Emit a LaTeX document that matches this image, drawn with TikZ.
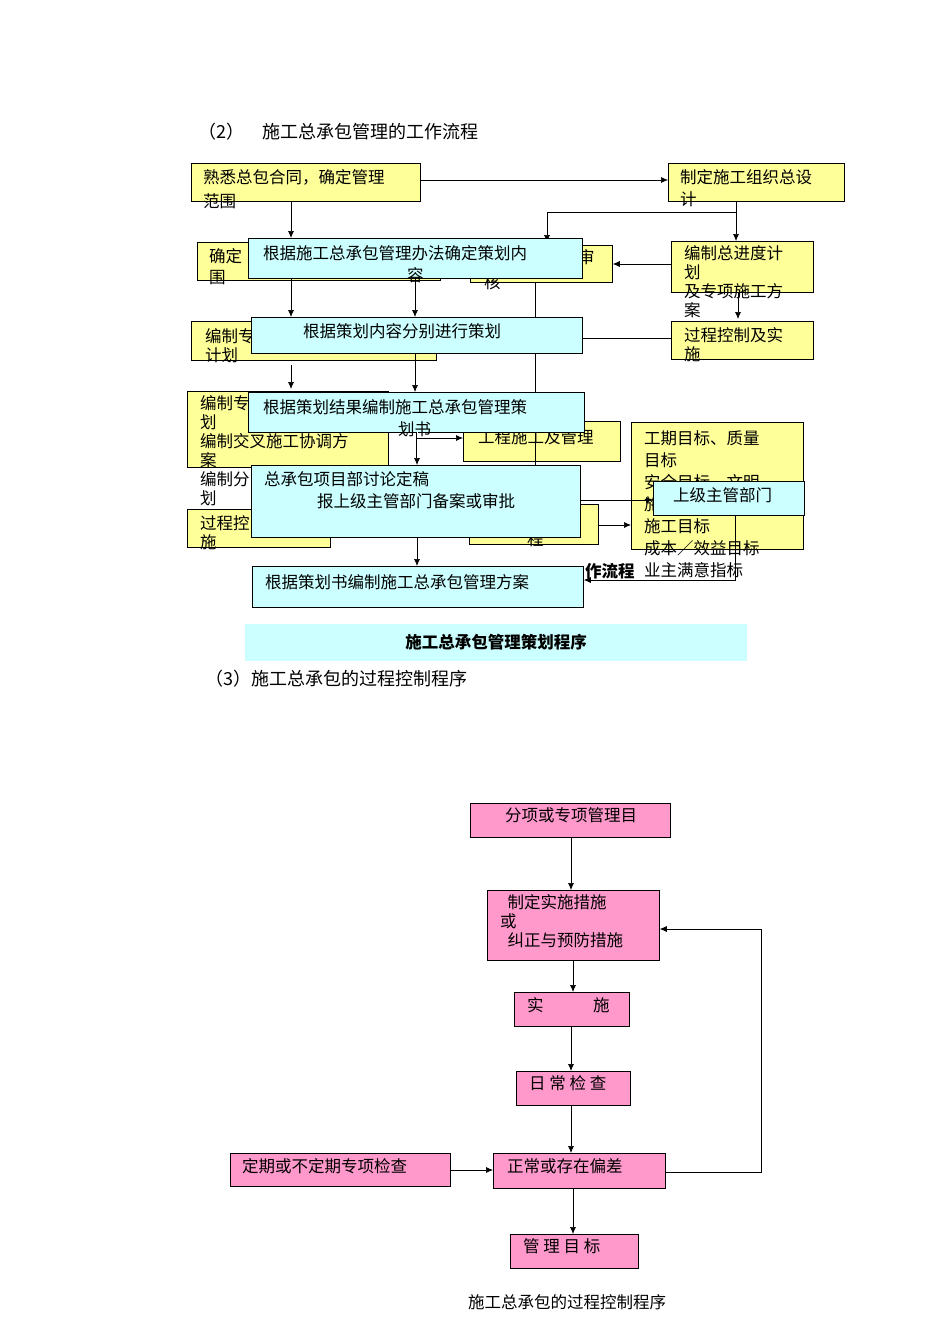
\documentclass[tikz,border=0pt]{standalone}
\usepackage{fontspec}
\usetikzlibrary{arrows.meta}
\newfontfamily\cjk{Noto Sans CJK SC}
\definecolor{yel}{HTML}{FFFF99}
\definecolor{cya}{HTML}{CCFFFF}
\definecolor{pnk}{HTML}{FF99CC}
\definecolor{ban}{HTML}{CCFFFF}
\begin{document}
\begin{tikzpicture}[x=1pt,y=-1pt,font=\cjk\fontsize{16.5}{19}\selectfont,
 box/.style={draw=black,line width=0.8pt,anchor=north west,inner sep=0pt},
 ybox/.style={box,fill=yel},
 cbox/.style={box,fill=cya},
 pbox/.style={box,fill=pnk},
 txt/.style={anchor=north west,inner sep=0pt,align=left},
 arr/.style={-{Latex[length=7pt,width=6pt]},line width=0.7pt},
 ln/.style={line width=0.7pt}]
\useasboundingbox (0,0) rectangle (950,1344);
\node[txt,font=\cjk\fontsize{18}{21}\selectfont] (t2) at (198,123) {（2）　施工总承包管理的工作流程};
% yellow boxes
\node[ybox,minimum width=229,minimum height=38] (y1) at (191,163) {};
\node[txt] at (203,169) {熟悉总包合同，确定管理};
\node[txt] at (203,193) {范围};
\node[ybox,minimum width=176,minimum height=38] (y2) at (668,163) {};
\node[txt] at (680,169) {制定施工组织总设};
\node[txt] at (680,191) {计};
\node[ybox,minimum width=243,minimum height=38] (y3) at (197,242) {};
\node[txt] at (209,248) {确定};
\node[txt] at (209,270) {围};
\node[ybox,minimum width=142,minimum height=37] (y4) at (470,245) {};
\node[txt] at (578,249) {审};
\node[txt] at (484,274) {核};
\node[ybox,minimum width=142,minimum height=51] (y5) at (671,241) {};
\node[txt] at (684,245) {编制总进度计\\划\\及专项施工方\\案};
\node[ybox,minimum width=142,minimum height=38] (y6) at (671,321) {};
\node[txt] at (684,327) {过程控制及实\\施};
\node[ybox,minimum width=245,minimum height=39] (y7) at (191,321) {};
\node[txt] at (205,328) {编制专\\计划};
\node[ybox,minimum width=201,minimum height=76] (y8) at (187,391) {};
\node[txt] at (200,395) {编制专\\划\\编制交叉施工协调方\\案\\编制分\\划};
\node[ybox,minimum width=143,minimum height=38] (y9) at (187,509) {};
\node[txt] at (200,515) {过程控\\施};
\node[ybox,minimum width=157,minimum height=40] (y10) at (463,421) {};
\node[txt] at (478,429) {工程施工及管理};
\node[ybox,minimum width=129,minimum height=40] (y11) at (469,504) {};
\node[txt] at (527,532) {程};
\node[ybox,minimum width=172,minimum height=127] (y12) at (631,422) {};
\node[txt,font=\cjk\fontsize{16.5}{22}\selectfont] at (644,430) {工期目标、质量\\目标\\安全目标、文明\\施工目标\\施工目标\\成本／效益目标\\业主满意指标};
% connectors behind
\draw[arr] (y1.east |- 0,180) -- (y2.west |- 0,180);
\draw[arr] (291,201) -- (291,238);
\draw[arr] (736,201) -- (y5.north -| 736,0);
\draw[arr] (736,212) -- (547,212) -- (547,242);
\draw[arr] (y5.west |- 0,264) -- (y4.east |- 0,264);
\draw[arr] (738,292) -- (738,319);
\draw[ln] (535,282) -- (535,504);
% cyan boxes
\node[cbox,minimum width=334,minimum height=40] (c1) at (248,238) {};
\node[txt] at (263,245) {根据施工总承包管理办法确定策划内};
\node[txt] at (407,267) {容};
\node[cbox,minimum width=331,minimum height=36] (c2) at (251,317) {};
\node[txt] at (303,323) {根据策划内容分别进行策划};
\node[cbox,minimum width=336,minimum height=40] (c3) at (248,392) {};
\node[txt] at (263,399) {根据策划结果编制施工总承包管理策};
\node[txt] at (398,421) {划书};
\node[cbox,minimum width=329,minimum height=72] (c4) at (251,465) {};
\node[txt] at (264,471) {总承包项目部讨论定稿};
\node[txt] at (317,493) {报上级主管部门备案或审批};
\node[cbox,minimum width=151,minimum height=34] (c5) at (653,481) {};
\node[txt] at (673,487) {上级主管部门};
\node[cbox,minimum width=331,minimum height=41] (c6) at (252,566) {};
\node[txt] at (265,574) {根据策划书编制施工总承包管理方案};
\node[txt,font=\cjk\bfseries\fontsize{16.5}{19}\selectfont] at (585,563) {作流程};
% cyan-level connectors
\draw[ln] (c2.east |- 0,338) -- (y6.west |- 0,338);
\draw[arr] (291,278) -- (291,317);
\draw[arr] (415,278) -- (415,317);
\draw[arr] (291,365) -- (291,389);
\draw[arr] (415,353) -- (415,392);
\draw[arr,double] (417,432) -- (417,465);
\draw[arr] (417,438) -- (y10.west |- 0,438);
\draw[arr] (c4.east |- 0,500) -- (c5.west |- 0,500);
\draw[arr] (598,525) -- (631,525);
\draw[arr] (417,537) -- (417,566);
\draw[arr] (735,515) -- (735,580) -- (c6.east |- 0,580);
% banner
\node[box,draw=none,fill=ban,minimum width=502,minimum height=37] (bn) at (245,624) {};
\node[font=\cjk\bfseries\fontsize{16.5}{19}\selectfont] at (496,642) {施工总承包管理策划程序};
\node[txt,font=\cjk\fontsize{18}{21}\selectfont] (t3) at (205,670) {（3）施工总承包的过程控制程序};
% pink flow
\node[pbox,minimum width=200,minimum height=34] (p1) at (470,803) {};
\node[txt] at (505,807) {分项或专项管理目};
\node[pbox,minimum width=172,minimum height=70] (p2) at (487,890) {};
\node[txt] at (500,894) {\ \ 制定实施措施\\或\\\ \ 纠正与预防措施};
\node[pbox,minimum width=115,minimum height=34] (p3) at (514,992) {};
\node[txt] at (527,997) {实　　　施};
\node[pbox,minimum width=114,minimum height=34] (p4) at (516,1071) {};
\node[txt] at (529,1075) {日 常 检 查};
\node[pbox,minimum width=172,minimum height=35] (p5) at (493,1153) {};
\node[txt] at (507,1158) {正常或存在偏差};
\node[pbox,minimum width=220,minimum height=33] (p6) at (230,1153) {};
\node[txt] at (242,1158) {定期或不定期专项检查};
\node[pbox,minimum width=128,minimum height=34] (p7) at (510,1234) {};
\node[txt] at (523,1238) {管 理 目 标};
\draw[arr] (571,837) -- (571,890);
\draw[arr] (573,960) -- (573,992);
\draw[arr] (571,1026) -- (571,1071);
\draw[arr] (571,1105) -- (571,1153);
\draw[arr] (p6.east |- 0,1170) -- (p5.west |- 0,1170);
\draw[arr] (573,1188) -- (573,1234);
\draw[arr] (p5.east |- 0,1172) -- (761,1172) -- (761,929) -- (p2.east |- 0,929);
\node[font=\cjk\fontsize{16.5}{19}\selectfont] (cap) at (567,1302) {施工总承包的过程控制程序};
\end{tikzpicture}
\end{document}
